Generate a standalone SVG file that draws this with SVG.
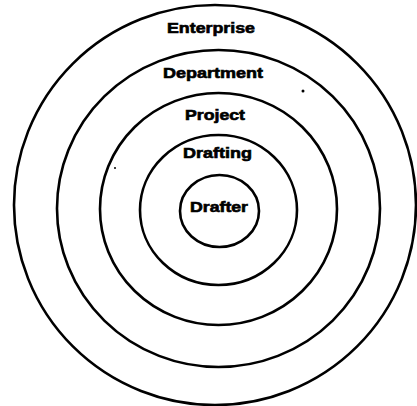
<svg xmlns="http://www.w3.org/2000/svg" width="417" height="406" viewBox="0 0 417 406">
<style>
.ring{fill:none;stroke:#000;stroke-width:2.6}
.lbl{font-family:"Liberation Sans",Arial,sans-serif;font-weight:bold;font-size:14px;fill:#000;text-anchor:middle;stroke:#000;stroke-width:0.6}
</style>
<rect width="417" height="406" fill="#fff"/>
<g id="enterprise">
<ellipse class="ring" cx="215" cy="205" rx="201" ry="200"/>
<text class="lbl" x="211" y="33" textLength="88" lengthAdjust="spacingAndGlyphs">Enterprise</text>
</g>
<g id="department">
<ellipse class="ring" cx="218.5" cy="208.5" rx="161.5" ry="158.5"/>
<text class="lbl" x="213" y="78" textLength="100" lengthAdjust="spacingAndGlyphs">Department</text>
</g>
<g id="project">
<ellipse class="ring" cx="218.5" cy="209" rx="118.5" ry="116"/>
<text class="lbl" x="215" y="120" textLength="60" lengthAdjust="spacingAndGlyphs">Project</text>
</g>
<g id="drafting">
<ellipse class="ring" cx="218.5" cy="210" rx="78.5" ry="75"/>
<text class="lbl" x="217.5" y="158" textLength="69" lengthAdjust="spacingAndGlyphs">Drafting</text>
</g>
<g id="drafter">
<ellipse class="ring" cx="219.5" cy="211" rx="39.5" ry="36"/>
<text class="lbl" x="219" y="212" textLength="58" lengthAdjust="spacingAndGlyphs">Drafter</text>
</g>
<g id="connectors"/>
<circle cx="303" cy="91" r="1.5" fill="#000"/>
<circle cx="115" cy="168" r="1" fill="#000"/>
</svg>
